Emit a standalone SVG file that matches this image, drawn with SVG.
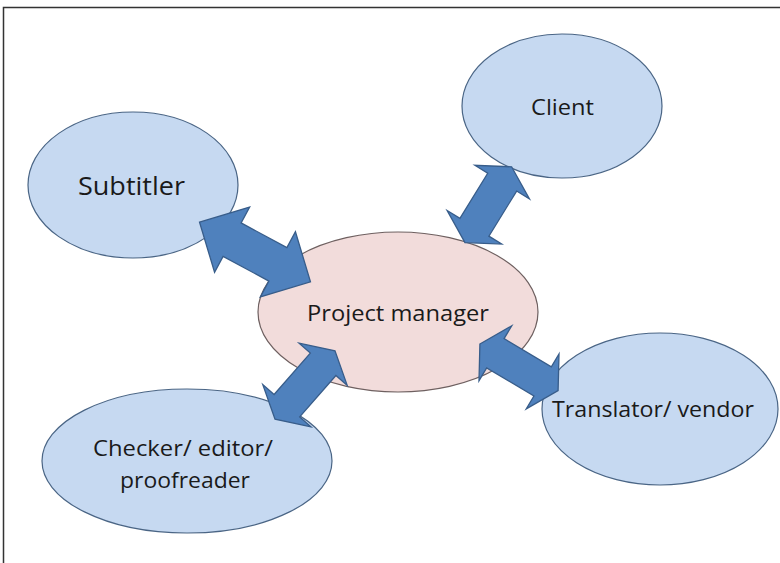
<svg xmlns="http://www.w3.org/2000/svg" width="780" height="563" viewBox="0 0 780 563">
<style>
.blue{fill:#C6D9F1;stroke:#4A6585;stroke-width:1.2}
.pink{fill:#F2DCDB;stroke:#6E6060;stroke-width:1.2}
.arr{fill:#4F81BD;stroke:#385D8A;stroke-width:1.3;stroke-linejoin:miter}
.lbl{font-family:"Open Sans","Liberation Sans",sans-serif;fill:#1a1a1a;text-anchor:middle}
</style>
<rect x="0" y="0" width="780" height="563" fill="#ffffff"/>
<rect x="3.5" y="7.5" width="820" height="600" fill="none" stroke="#333333" stroke-width="1.5"/>
<g id="subtitler">
<ellipse class="blue" cx="133" cy="185" rx="105" ry="73"/>
<text class="lbl" x="131.5" y="195" font-size="25" textLength="107" lengthAdjust="spacingAndGlyphs">Subtitler</text>
</g>
<g id="client">
<ellipse class="blue" cx="562" cy="106" rx="100" ry="72"/>
<text class="lbl" x="562.5" y="115" font-size="21" textLength="63" lengthAdjust="spacingAndGlyphs">Client</text>
</g>
<g id="pm">
<ellipse class="pink" cx="398" cy="312" rx="140" ry="80"/>
<text class="lbl" x="398" y="321" font-size="21" textLength="182" lengthAdjust="spacingAndGlyphs">Project manager</text>
</g>
<g id="translator">
<ellipse class="blue" cx="660" cy="409" rx="118" ry="76"/>
<text class="lbl" x="653" y="417" font-size="21" textLength="202" lengthAdjust="spacingAndGlyphs">Translator/ vendor</text>
</g>
<g id="checker">
<ellipse class="blue" cx="187" cy="461" rx="145" ry="72"/>
<text class="lbl" x="183" y="456" font-size="21" textLength="180" lengthAdjust="spacingAndGlyphs">Checker/ editor/</text>
<text class="lbl" x="185" y="488" font-size="21" textLength="130" lengthAdjust="spacingAndGlyphs">proofreader</text>
</g>
<g id="connectors">
<polygon class="arr" transform="translate(255,252) rotate(28.3)" points="-63,0 -26,-37 -26,-19 26,-19 26,-37 63,0 26,37 26,19 -26,19 -26,37"/>
<polygon class="arr" transform="translate(488.3,204.7) rotate(-58.4)" points="-44.5,0 -26.5,-32 -26.5,-17 26.5,-17 26.5,-32 44.5,0 26.5,32 26.5,17 -26.5,17 -26.5,32"/>
<polygon class="arr" transform="translate(305,385) rotate(-48.8)" points="-45.5,0 -27.5,-32 -27.5,-17 27.5,-17 27.5,-32 45.5,0 27.5,32 27.5,17 -27.5,17 -27.5,32"/>
<polygon class="arr" transform="translate(519,367.3) rotate(30.8)" points="-45.5,0 -27.5,-32 -27.5,-17 27.5,-17 27.5,-32 45.5,0 27.5,32 27.5,17 -27.5,17 -27.5,32"/>
</g>
</svg>
